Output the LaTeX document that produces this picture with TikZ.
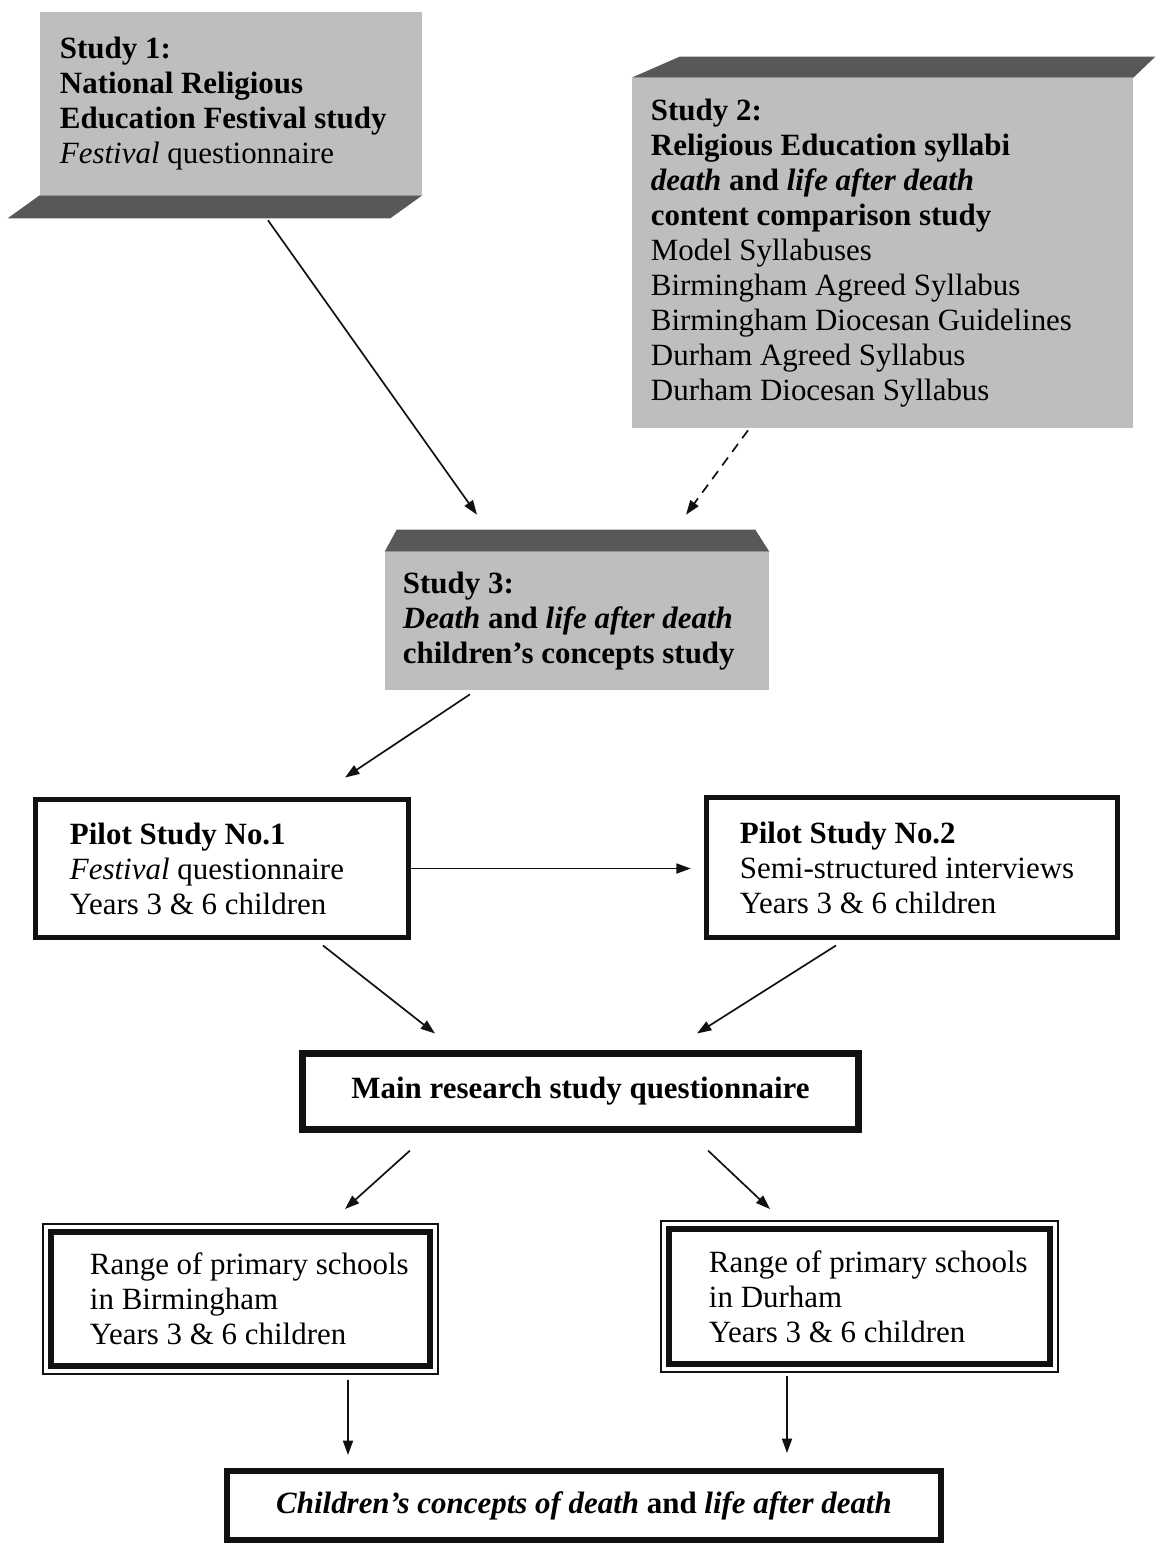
\documentclass[tikz,border=0pt]{standalone}
\usepackage{fontspec}
\setmainfont{Liberation Serif}
\usetikzlibrary{arrows.meta,calc}
\definecolor{slabFace}{HTML}{BEBEBE}
\definecolor{slabEdge}{HTML}{585858}
\definecolor{flowInk}{HTML}{111111}

\begin{document}
\begin{tikzpicture}[
  x=0.025cm,y=-0.025cm,
  font=\fontsize{22}{24.9}\selectfont,
  slab/.style={fill=slabFace,inner sep=0pt,align=flush left},
  face/.style={fill=slabEdge},
  pilot/.style={draw=flowInk,line width=3.5pt,inner sep=0pt,align=flush left},
  mainbox/.style={draw=flowInk,line width=5pt,inner sep=0pt,align=center,font=\fontsize{22}{24.9}\selectfont\bfseries},
  rangebox/.style={draw=flowInk,line width=4.2pt,inner sep=0pt,align=flush left},
  rim/.style={draw=flowInk,line width=1pt},
  edge/.style={-{Triangle[length=3.6mm,width=2.5mm]},line width=1.2pt,draw=flowInk},
  hint/.style={edge,dash pattern=on 7pt off 5pt}
]
\useasboundingbox (0,0) rectangle (1162,1543);

% grey study slabs
\node[slab,minimum width=9.55cm,minimum height=4.575cm,text width=8.55cm] (study1) at (231,103.5)
  {\textbf{Study 1:}\\\textbf{National Religious}\\\textbf{Education Festival study}\\\textit{Festival} questionnaire};
\fill[face] (study1.south west) -- (study1.south east) -- ++(-32,23) -- ([shift={(-32,23)}]study1.south west) -- cycle;

\node[slab,minimum width=12.525cm,minimum height=8.75cm,text width=11.575cm] (study2) at (882.5,253)
  {\textbf{Study 2:}\\\textbf{Religious Education syllabi}\\\textbf{\textit{death} and \textit{life after death}}\\\textbf{content comparison study}\\Model Syllabuses\\Birmingham Agreed Syllabus\\Birmingham Diocesan Guidelines\\Durham Agreed Syllabus\\Durham Diocesan Syllabus};
\fill[face] (study2.north west) -- ([shift={(48,-21)}]study2.north west) -- ([shift={(22,-21)}]study2.north east) -- (study2.north east) -- cycle;

\node[slab,minimum width=9.6cm,minimum height=3.45cm,text width=8.7cm] (study3) at (577,621)
  {\textbf{Study 3:}\\\textbf{\textit{Death} and \textit{life after death}}\\\textbf{children's concepts study}};
\fill[face] (study3.north west) -- ++(12,-22) -- ([shift={(-14,-22)}]study3.north east) -- (study3.north east) -- cycle;

% pilot studies
\node[pilot,minimum width=9.325cm,minimum height=3.45cm,text width=7.6cm] (pilot1) at (222,868.5)
  {\textbf{Pilot Study No.1}\\\textit{Festival} questionnaire\\Years 3 \& 6 children};
\node[pilot,minimum width=10.275cm,minimum height=3.5cm,text width=8.6cm] (pilot2) at (912,867.5)
  {\textbf{Pilot Study No.2}\\Semi-structured interviews\\Years 3 \& 6 children};

\node[mainbox,minimum width=13.9cm,minimum height=1.9cm] (mainq) at (580.5,1091.5) {Main research study questionnaire};

% schools
\node[rangebox,minimum width=9.475cm,minimum height=3.35cm,text width=7.525cm] (birm) at (240.5,1299)
  {\mbox{Range of primary schools}\\in Birmingham\\Years 3 \& 6 children};
\node[rangebox,minimum width=9.525cm,minimum height=3.375cm,text width=7.525cm] (durh) at (859.5,1296.5)
  {\mbox{Range of primary schools}\\in Durham\\Years 3 \& 6 children};
\foreach \n in {birm,durh} {\draw[rim] ([shift={(-5,5)}]\n.south west) rectangle ([shift={(5,-5)}]\n.north east);}

\node[rangebox,align=center,minimum width=17.85cm,minimum height=1.725cm] (concepts) at (584,1505.5)
  {\textbf{\textit{Children's concepts of death} and \textit{life after death}}};
\draw[rim] ([shift={(5.5,-5.5)}]concepts.south west) rectangle ([shift={(-5.5,5.5)}]concepts.north east);

% connectors
\draw[edge] ([shift={(37,25)}]study1.south) -- ([shift={(-100,-37)}]study3.north);
\draw[hint] ([shift={(-134.5,2)}]study2.south) -- ([shift={(109,-37)}]study3.north);
\draw[edge] ([shift={(-107,4)}]study3.south) -- ([shift={(123,-19.5)}]pilot1.north);
\draw[edge,shorten >=0.33cm] (pilot1.east) -- (pilot1.east -| pilot2.west);
\draw[edge] ([shift={(101,5.5)}]pilot1.south) -- ([shift={(-145.5,-16.5)}]mainq.north);
\draw[edge] ([shift={(-76,5.5)}]pilot2.south) -- ([shift={(116.5,-16.5)}]mainq.north);
\draw[edge] ([shift={(-170.5,17.5)}]mainq.south) -- ([shift={(104.5,-20)}]birm.north);
\draw[edge] ([shift={(127.5,17.5)}]mainq.south) -- ([shift={(-89.5,-17)}]durh.north);
\draw[edge] ([shift={(107.5,11)}]birm.south) -- ([shift={(-236,-13)}]concepts.north);
\draw[edge] ([shift={(-72.5,9)}]durh.south) -- ([shift={(203,-15)}]concepts.north);
\end{tikzpicture}
\end{document}
